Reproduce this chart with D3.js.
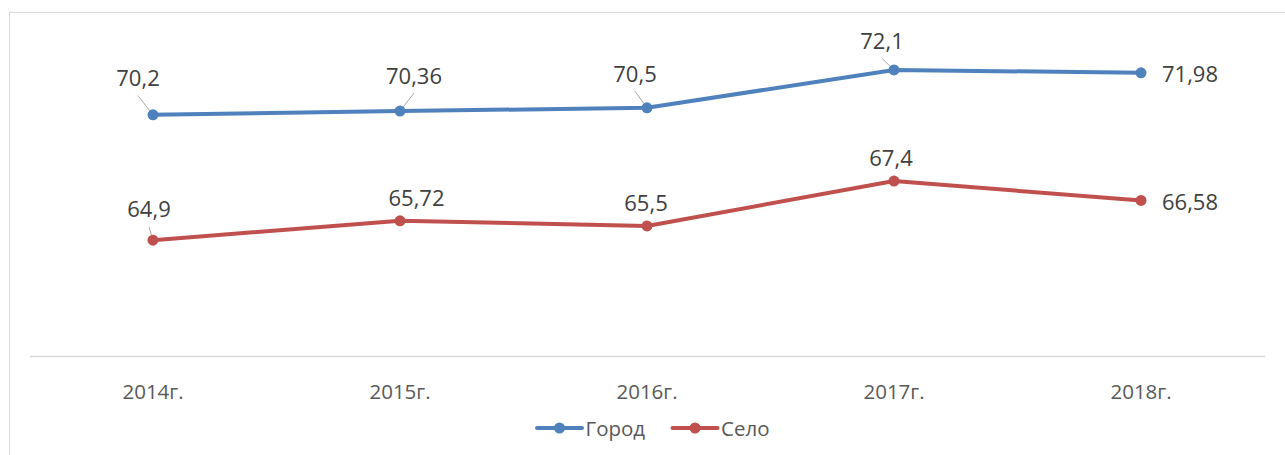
<!DOCTYPE html>
<html><head><meta charset="utf-8">
<script src="https://cdn.jsdelivr.net/npm/d3@7"></script>
<style>html,body{margin:0;padding:0;background:#fff;overflow:hidden}</style>
</head><body>
<script>
const categories = ["2014г.", "2015г.", "2016г.", "2017г.", "2018г."];
const gorod = [70.2, 70.36, 70.5, 72.1, 71.98];
const selo = [64.9, 65.72, 65.5, 67.4, 66.58];
const seriesNames = ["Город", "Село"];

// label placement (layout offsets from each point)
const gorodLabelOff = [[-15,-28.7,1],[14,-27.5,1],[-12,-26,1],[-12,-21,1],[21,9.6,0]];
const seloLabelOff = [[-4,-23,1],[16.5,-15,0],[-1,-15.3,0],[-3,-15.4,0],[21,9.6,0]];

const W = 1285, H = 455;
const svg = d3.select("body").append("svg").attr("width", W).attr("height", H);
const FONT = "'Open Sans', sans-serif";

svg.append("rect").attr("x", 9.5).attr("y", 12.5).attr("width", 1400).attr("height", 600)
  .attr("fill", "none").attr("stroke", "#d9d9d9").attr("stroke-width", 1);

const x = d3.scaleBand().domain(categories).range([29.5, 1264.5]);
const y = d3.scaleLinear().domain([60, 75]).range([356, 1.4]);
const cx = d => x(d) + x.bandwidth() / 2;

// category axis
const xAxis = svg.append("g").attr("transform", "translate(0,356)")
  .call(d3.axisBottom(x).tickSize(0).tickPadding(0));
xAxis.select(".domain").attr("stroke", "#d9d9d9").attr("stroke-width", 1.3);
xAxis.selectAll("text").attr("font-family", FONT).attr("font-size", 20.5)
  .attr("fill", "#595959").attr("dy", null).attr("y", 43);

const series = [
  {name: seriesNames[0], values: gorod, color: "#4F81BD", off: gorodLabelOff},
  {name: seriesNames[1], values: selo, color: "#C0504D", off: seloLabelOff}
];

const line = d3.line().x((d, i) => cx(categories[i])).y(d => y(d));

series.forEach(s => {
  const g = svg.append("g");
  g.append("path").datum(s.values).attr("d", line).attr("fill", "none")
    .attr("stroke", s.color).attr("stroke-width", 4).attr("stroke-linejoin", "round").attr("stroke-linecap", "round");
  // leader lines
  s.values.forEach((v, i) => {
    const o = s.off[i];
    if (o[2]) {
      const px = cx(categories[i]), py = y(v);
      g.append("line").attr("x1", px + o[0]).attr("y1", py + o[1] + 9.5)
        .attr("x2", px).attr("y2", py).attr("stroke", "#a6a6a6").attr("stroke-width", 1);
    }
  });
  g.selectAll("circle").data(s.values).join("circle")
    .attr("cx", (d, i) => cx(categories[i])).attr("cy", d => y(d)).attr("r", 5.5)
    .attr("fill", s.color);
  g.selectAll("text").data(s.values).join("text")
    .attr("x", (d, i) => cx(categories[i]) + s.off[i][0])
    .attr("y", (d, i) => y(d) + s.off[i][1])
    .attr("text-anchor", (d, i) => i === 4 ? "start" : "middle")
    .attr("font-family", FONT).attr("font-size", 22).attr("fill", "#404040")
    .text(d => String(d).replace(".", ","));
});

// legend
const legend = svg.append("g");
const legItems = [{x: 537, name: seriesNames[0], color: "#4F81BD"}, {x: 672.5, name: seriesNames[1], color: "#C0504D"}];
legItems.forEach(it => {
  legend.append("line").attr("x1", it.x).attr("x2", it.x + 45).attr("y1", 428).attr("y2", 428)
    .attr("stroke", it.color).attr("stroke-width", 4).attr("stroke-linecap", "round");
  legend.append("circle").attr("cx", it.x + 22.5).attr("cy", 428).attr("r", 5.5).attr("fill", it.color);
  legend.append("text").attr("x", it.x + 48.5).attr("y", 436).attr("font-family", FONT)
    .attr("font-size", 20.5).attr("fill", "#595959").text(it.name);
});
</script>
</body></html>
